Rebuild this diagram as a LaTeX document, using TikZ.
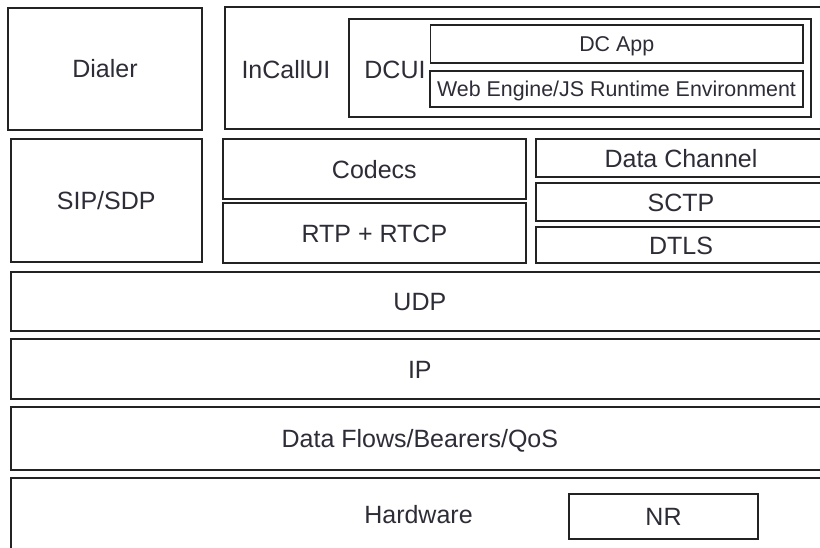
\documentclass[tikz,border=0pt]{standalone}
\usepackage{fontspec}
\setmainfont{Liberation Sans}
\definecolor{ink}{RGB}{45,45,55}
\definecolor{edge}{RGB}{35,35,35}
\tikzset{
  box/.style={draw=edge, line width=1.7pt, inner sep=0pt, outer sep=0pt,
    text=ink, font=\fontsize{25}{30}\selectfont, text height=18pt, text depth=0pt},
  smallbox/.style={box, font=\fontsize{21.4}{26}\selectfont, text height=15.4pt},
  lbl/.style={text=ink, font=\fontsize{25}{30}\selectfont, inner sep=0pt,
    text height=18pt, text depth=0pt}
}
\begin{document}
\begin{tikzpicture}[x=1pt,y=-1pt]
\useasboundingbox (0,0) rectangle (820,548);
\clip (0,0) rectangle (820,548);
\fill[white] (0,0) rectangle (820,548);
% top row
\node[box, minimum width=193.4pt, minimum height=122.6pt] (dialer) at (105,69) {Dialer};
\node[box, minimum width=603.7pt, minimum height=122.6pt] (incall) at (527.15,68) {};
\node[lbl] (incalllbl) at (286,70) {InCallUI};
\node[box, minimum width=461.7pt, minimum height=98.3pt] (dcui) at (580.15,68.15) {};
\node[lbl] (dcuilbl) at (395,70) {DCUI};
\node[smallbox, minimum width=372.5pt, minimum height=37.7pt] (dcapp) at (616.75,43.85) {DC App};
\node[smallbox, minimum width=373pt, minimum height=36.6pt] (web) at (616.5,89) {Web Engine/JS Runtime Environment};
% middle row
\node[box, minimum width=191pt, minimum height=122.4pt] (sip) at (106.2,200.5) {SIP/SDP};
\node[box, minimum width=303.3pt, minimum height=59.7pt] (codecs) at (374.35,169.15) {Codecs};
\node[box, minimum width=303.3pt, minimum height=60pt] (rtp) at (374.35,233.3) {RTP + RTCP};
\node[box, minimum width=290pt, minimum height=38.3pt] (dc) at (681,158.15) {Data Channel};
\node[box, minimum width=290pt, minimum height=37.7pt] (sctp) at (681,202.15) {SCTP};
\node[box, minimum width=290pt, minimum height=36pt] (dtls) at (681,245.3) {DTLS};
% wide layers
\node[box, minimum width=818.3pt, minimum height=59.3pt] (udp) at (419.85,301.35) {UDP};
\node[box, minimum width=818.3pt, minimum height=59.7pt] (ip) at (419.85,369.15) {IP};
\node[box, minimum width=818.3pt, minimum height=62.7pt] (df) at (419.85,438.65) {Data Flows/Bearers/QoS};
\node[box, minimum width=818.3pt, minimum height=81.7pt] (hw) at (419.85,519.15) {};
\node[lbl] (hwlbl) at (418.5,514.5) {Hardware};
\node[box, minimum width=189pt, minimum height=45pt] (nr) at (663.5,516.5) {NR};
\end{tikzpicture}
\end{document}
